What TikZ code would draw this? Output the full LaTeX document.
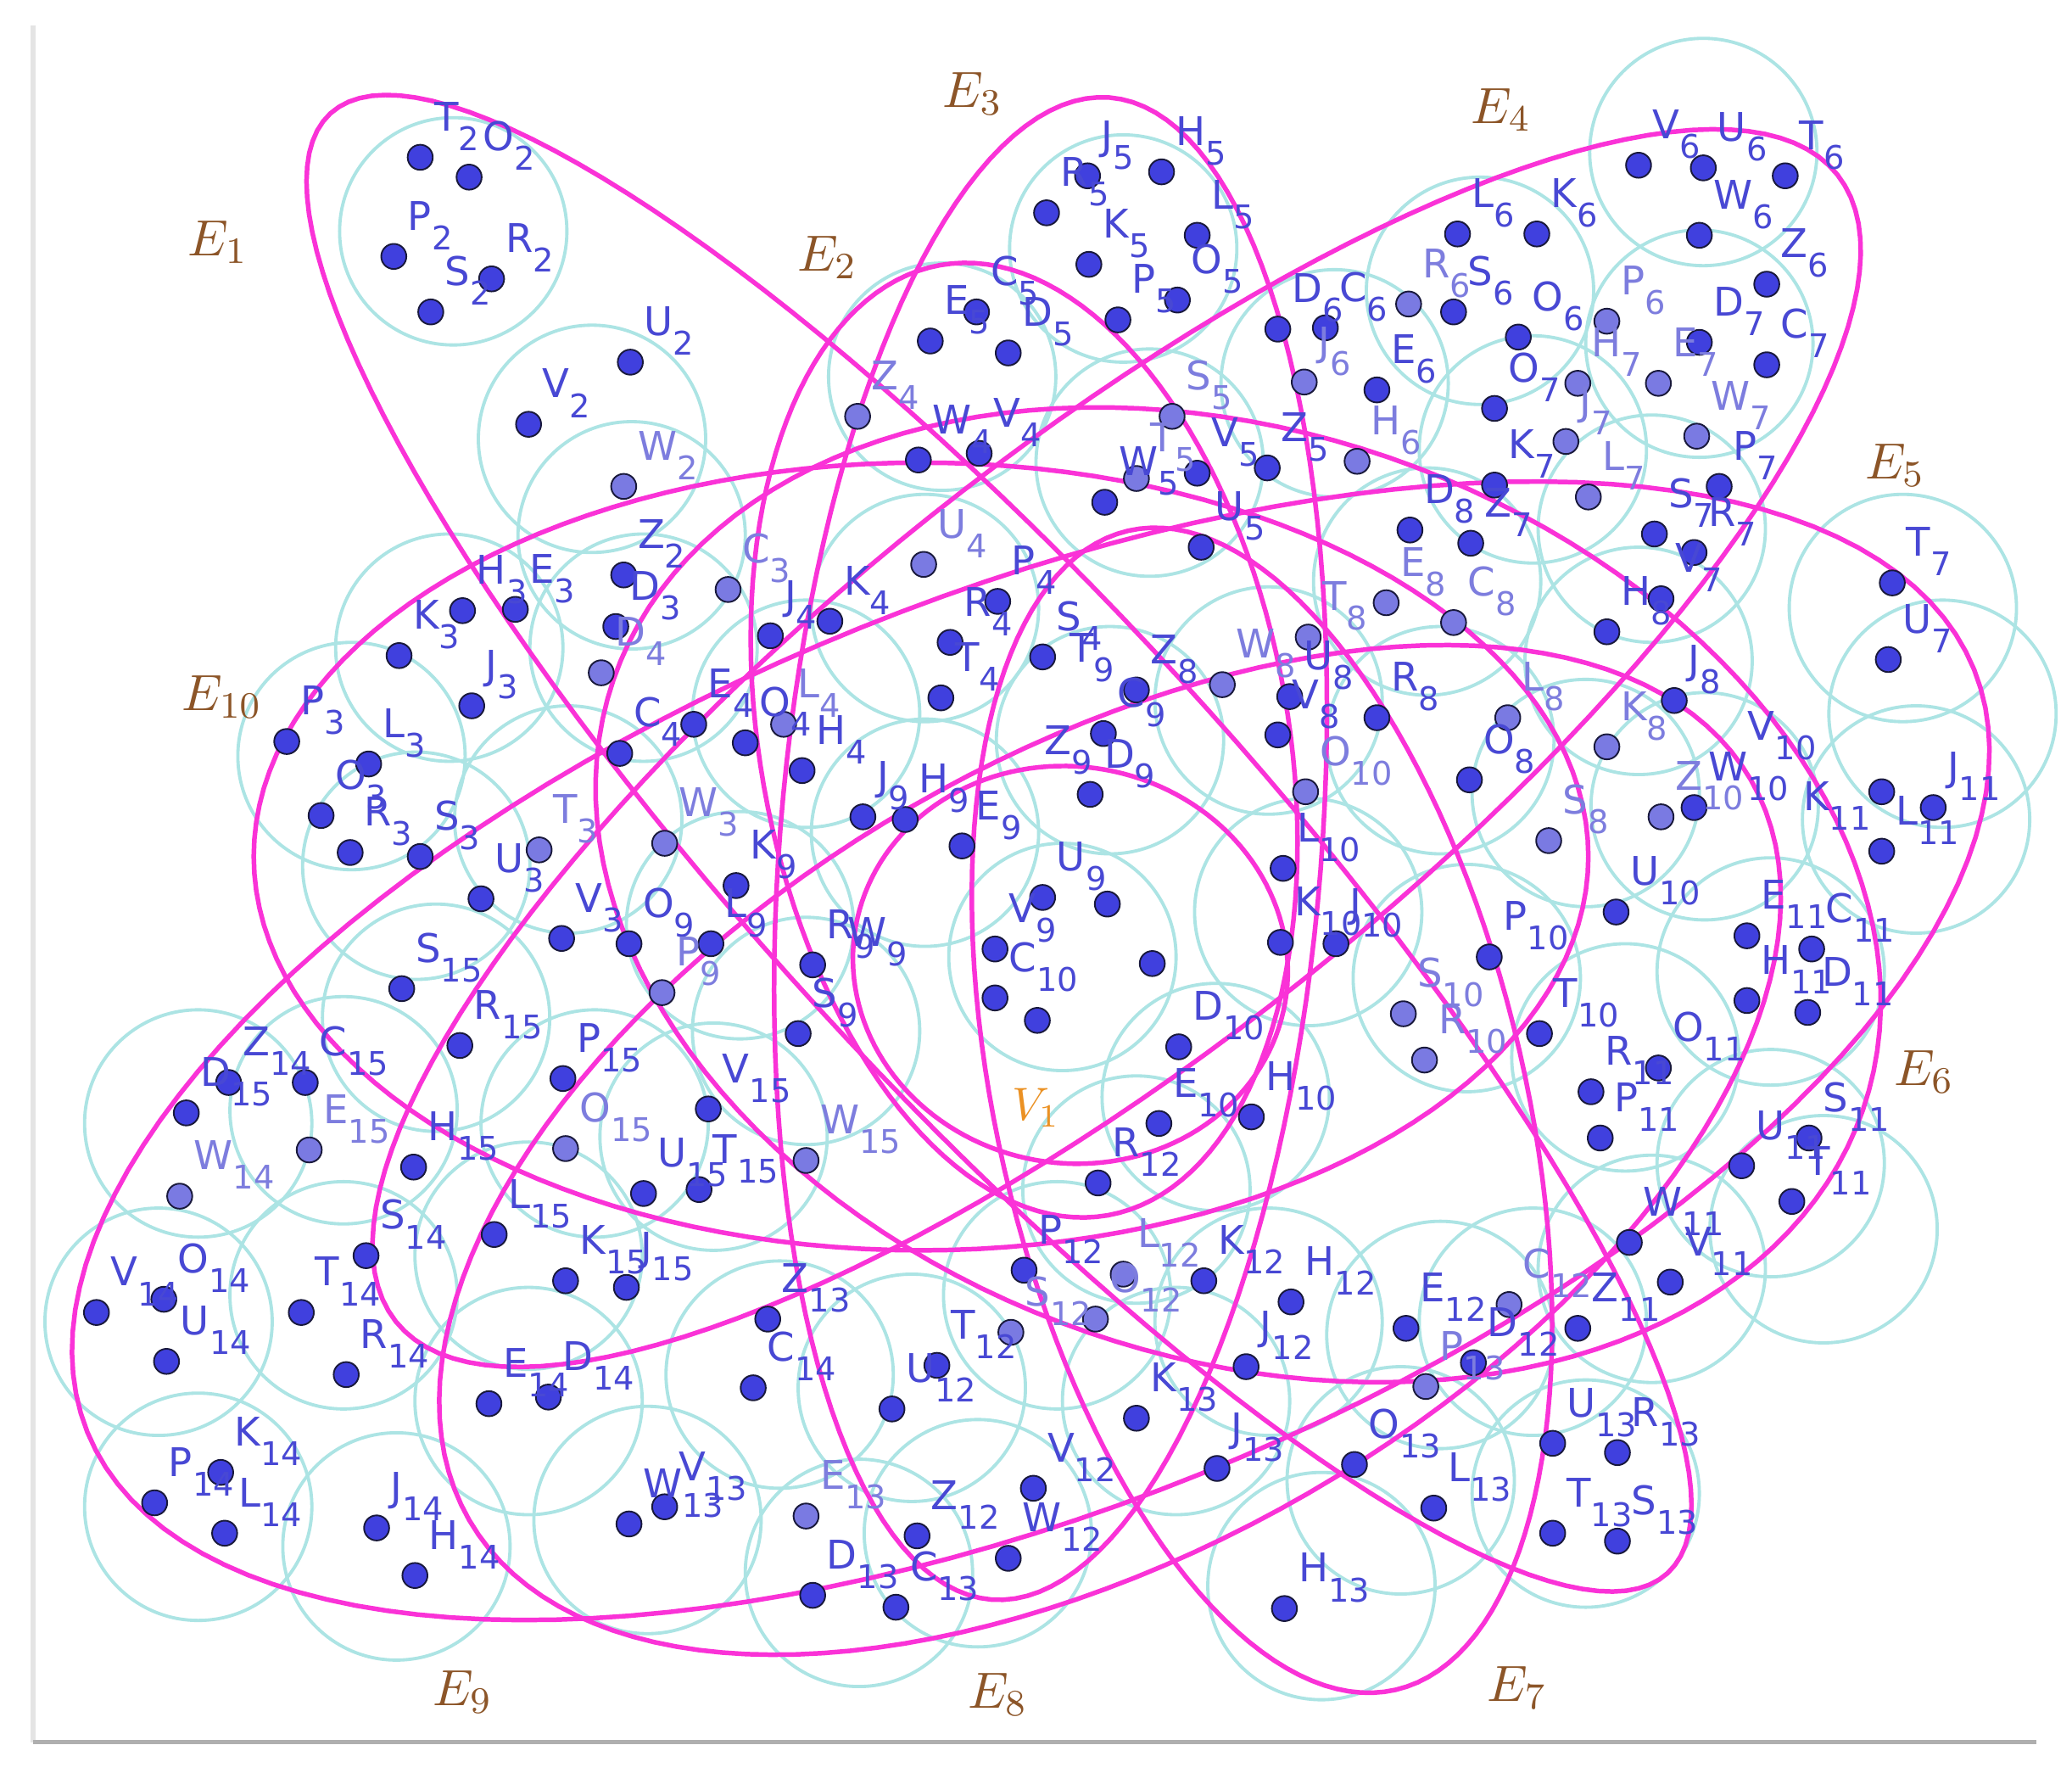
\documentclass[tikz,border=0pt]{standalone}
\usepackage{fontspec}
\newfontfamily\lblfont{DejaVu Sans}
\definecolor{magc}{RGB}{250,50,215}
\definecolor{cyc}{RGB}{172,228,228}
\definecolor{dotc}{RGB}{64,64,222}
\definecolor{dotl}{RGB}{122,122,226}
\definecolor{dotb}{RGB}{25,25,60}
\definecolor{lblc}{RGB}{72,72,212}
\definecolor{lbll}{RGB}{125,125,222}
\definecolor{ebrown}{RGB}{140,85,40}
\definecolor{vorange}{RGB}{235,145,35}
\definecolor{framec}{RGB}{175,175,175}
\definecolor{framel}{RGB}{228,228,228}
\newcommand\vsub[1]{\raisebox{-4.2pt}{\fontsize{7}{7}\selectfont #1}}
\newcommand\hell[5]{\draw[hedge] plot[variable=\t,domain=0:360,samples=145]
 ({#1+#3*cos(\t)*cos(#5)-#4*sin(\t)*sin(#5)},{#2+#3*cos(\t)*sin(#5)+#4*sin(\t)*cos(#5)}) -- cycle;}
\begin{document}
\begin{tikzpicture}[x=0.01cm,y=-0.01cm,
  cyanc/.style={draw=cyc,line width=0.7pt},
  hedge/.style={draw=magc,line width=1.0pt,line join=round},
  vdark/.style={fill=dotc,draw=dotb,line width=0.35pt},
  vlight/.style={fill=dotl,draw=dotb,line width=0.35pt},
  vlab/.style={anchor=base west,inner sep=0pt,text=lblc,font=\lblfont\fontsize{8.5}{8.5}\selectfont},
  vlabl/.style={vlab,text=lbll},
  elab/.style={text=ebrown,font=\fontsize{11}{11}\selectfont},
]
\useasboundingbox (0,0) rectangle (1568,1341);
\fill[white] (0,0) rectangle (1568,1341);
% frame
\draw[framel,line width=1pt] (25,19) -- (25,1318);
\draw[framec,line width=0.8pt] (25,1318) -- (1541,1318);

% cyan circles
\foreach \cx/\cy in {343/175,448/332,478/405,340/490,266/572,315/655,430/620,487/490,610/540,713/285,850/188,870/350,700/460,
1289/115,1286/260,1120/220,1010/290,1160/340,1250/400,1080/440,1440/460,1240/500,960/530,1090/560,1200/600,1290/610,1450/620,1340/735,1230/800,1340/880,1250/960,1110/740,990/690,920/830,1470/540,1380/930,
804/724,840/560,700/630,560/700,610/780,540/860,450/850,330/770,260/840,150/850,400/950,260/980,120/1000,400/1060,150/1140,300/1170,490/1150,590/1040,690/1050,800/980,650/1190,740/1160,890/1060,960/1000,1000/1200,1060/1120,1090/1010,1160/1000,1200/1130,860/900}
  {\draw[cyanc] (\cx,\cy) circle[radius=86];}

% hyperedges (magenta ellipses)
\hell{756}{638}{749}{185}{47.5}
\hell{795}{642}{570}{205}{94.5}
\hell{775}{560}{365}{200}{80}
\hell{697}{648}{505}{298}{0}
\hell{780}{795}{770}{345}{-22}
\hell{845}{566}{697}{225}{141.5}
\hell{937}{677}{500}{350}{19}
\hell{955}{840}{450}{200}{77}
\hell{840}{870}{560}{300}{-30}
\hell{810}{730}{165}{150}{10}

% dark vertices
\foreach \px/\py/\vl/\vs in {318/119/T/2,355/134/O/2,298/194/P/2,372/211/R/2,326/236/S/2,477/274/U/2,400/321/V/2,472/435/Z/2,
350/462/H/3,390/461/E/3,466/474/D/3,302/496/K/3,357/534/J/3,217/561/P/3,279/578/L/3,243/617/O/3,265/645/R/3,318/648/S/3,364/680/U/3,425/710/V/3,
469/570/C/4,525/548/E/4,564/562/O/4,607/583/H/4,583/481/J/4,628/470/K/4,755/455/P/4,719/486/R/4,789/497/S/4,712/528/T/4,741/343/V/4,695/348/W/4,
823/133/J/5,879/130/H/5,792/161/R/5,906/178/L/5,824/200/K/5,891/227/O/5,846/242/P/5,739/236/C/5,704/258/E/5,763/267/D/5,836/380/W/5,906/358/V/5,959/354/Z/5,909/414/U/5,
1240/125/V/6,1289/127/U/6,1351/133/T/6,1286/178/W/6,1103/177/L/6,1163/177/K/6,1337/215/Z/6,1100/236/S/6,1149/255/O/6,967/249/D/6,1003/248/C/6,1042/295/E/6,
1286/259/D/7,1337/276/C/7,1131/309/O/7,1131/367/K/7,1301/368/P/7,1113/411/Z/7,1252/404/S/7,1282/418/R/7,1257/453/V/7,1432/441/T/7,1429/499/U/7,
1067/401/D/8,1216/478/H/8,976/527/U/8,860/522/Z/8,967/556/V/8,1042/543/R/8,1267/530/J/8,1112/590/O/8,
835/555/C/9,825/601/D/9,653/618/J/9,685/620/H/9,728/640/E/9,557/670/K/9,538/714/L/9,476/714/O/9,615/730/R/9,604/782/S/9,789/679/U/9,753/718/V/9,
753/755/C/10,892/792/D/10,877/850/E/10,947/845/H/10,1011/714/J/10,969/713/K/10,971/657/L/10,1127/724/P/10,1165/782/T/10,1223/690/U/10,1282/611/W/10,
1322/708/E/11,1371/718/C/11,1322/757/H/11,1368/766/D/11,1463/611/J/11,1424/644/L/11,1255/808/O/11,1204/826/R/11,1211/861/P/11,1369/861/S/11,1318/882/U/11,1356/909/T/11,1233/940/W/11,1264/970/V/11,1194/1005/Z/11,
831/895/R/12,775/961/P/12,911/969/K/12,977/985/H/12,709/1033/T/12,675/1066/U/12,943/1034/J/12,782/1126/V/12,763/1179/W/12,694/1162/Z/12,1064/1005/E/12,1115/1031/D/12,
581/998/Z/13,860/1073/K/13,921/1111/J/13,615/1207/D/13,678/1216/C/13,972/1217/H/13,476/1153/W/13,503/1140/V/13,1175/1092/U/13,1224/1099/R/13,1025/1108/O/13,1085/1141/L/13,1175/1160/T/13,1224/1166/S/13,
173/819/Z/14,277/950/S/14,228/993/T/14,73/993/V/14,124/983/O/14,126/1030/U/14,262/1040/R/14,370/1062/E/14,415/1057/D/14,167/1114/K/14,117/1137/P/14,170/1160/L/14,285/1156/J/14,314/1192/H/14,570/1050/C/14,
304/748/S/15,348/791/R/15,426/816/P/15,231/819/C/15,141/842/D/15,313/883/H/15,487/903/U/15,529/900/T/15,536/839/V/15,374/934/L/15,428/969/K/15,474/974/J/15}
  {\path[vdark] (\px,\py) circle[radius=9.5];}

% light vertices
\foreach \px/\py/\vl/\vs in {472/368/W/2,408/643/T/3,551/446/C/3,455/509/D/4,593/548/L/4,699/427/U/4,649/315/Z/4,887/315/S/5,860/362/T/5,
1066/230/R/6,1216/243/P/6,987/289/J/6,1027/349/H/6,1255/290/E/7,1194/290/H/7,1284/330/W/7,1185/334/J/7,1202/376/L/7,
1049/456/E/8,1100/471/C/8,990/482/T/8,925/518/W/8,1141/543/L/8,1216/565/K/8,1172/636/S/8,501/751/P/9,503/638/W/3,
988/599/O/10,1078/802/R/10,1062/767/S/10,1257/618/Z/10,850/964/L/12,829/998/O/12,765/1008/S/12,1142/987/C/12,
610/1147/E/13,1079/1049/P/13,136/905/W/14,234/870/E/15,428/869/O/15,610/878/W/15}
  {\path[vlight] (\px,\py) circle[radius=9.5];}

% unlabeled vertices
\foreach \px/\py in {872/729,785/772,838/684,1424/599}
  {\path[vdark] (\px,\py) circle[radius=9.5];}

% labels of dark vertices
\foreach \px/\py/\vl/\vs in {318/119/T/2,355/134/O/2,298/194/P/2,372/211/R/2,326/236/S/2,477/274/U/2,400/321/V/2,472/435/Z/2,
350/462/H/3,390/461/E/3,466/474/D/3,302/496/K/3,357/534/J/3,217/561/P/3,279/578/L/3,243/617/O/3,265/645/R/3,318/648/S/3,364/680/U/3,425/710/V/3,
469/570/C/4,525/548/E/4,564/562/O/4,607/583/H/4,583/481/J/4,628/470/K/4,755/455/P/4,719/486/R/4,789/497/S/4,712/528/T/4,741/343/V/4,695/348/W/4,
823/133/J/5,879/130/H/5,792/161/R/5,906/178/L/5,824/200/K/5,891/227/O/5,846/242/P/5,739/236/C/5,704/258/E/5,763/267/D/5,836/380/W/5,906/358/V/5,959/354/Z/5,909/414/U/5,
1240/125/V/6,1289/127/U/6,1351/133/T/6,1286/178/W/6,1103/177/L/6,1163/177/K/6,1337/215/Z/6,1100/236/S/6,1149/255/O/6,967/249/D/6,1003/248/C/6,1042/295/E/6,
1286/259/D/7,1337/276/C/7,1131/309/O/7,1131/367/K/7,1301/368/P/7,1113/411/Z/7,1252/404/S/7,1282/418/R/7,1257/453/V/7,1432/441/T/7,1429/499/U/7,
1067/401/D/8,1216/478/H/8,976/527/U/8,860/522/Z/8,967/556/V/8,1042/543/R/8,1267/530/J/8,1112/590/O/8,
835/555/C/9,825/601/D/9,653/618/J/9,685/620/H/9,728/640/E/9,557/670/K/9,538/714/L/9,476/714/O/9,615/730/R/9,604/782/S/9,789/679/U/9,753/718/V/9,
753/755/C/10,892/792/D/10,877/850/E/10,947/845/H/10,1011/714/J/10,969/713/K/10,971/657/L/10,1127/724/P/10,1165/782/T/10,1223/690/U/10,1282/611/W/10,
1322/708/E/11,1371/718/C/11,1322/757/H/11,1368/766/D/11,1463/611/J/11,1424/644/L/11,1255/808/O/11,1204/826/R/11,1211/861/P/11,1369/861/S/11,1318/882/U/11,1356/909/T/11,1233/940/W/11,1264/970/V/11,1194/1005/Z/11,
831/895/R/12,775/961/P/12,911/969/K/12,977/985/H/12,709/1033/T/12,675/1066/U/12,943/1034/J/12,782/1126/V/12,763/1179/W/12,694/1162/Z/12,1064/1005/E/12,1115/1031/D/12,
581/998/Z/13,860/1073/K/13,921/1111/J/13,615/1207/D/13,678/1216/C/13,972/1217/H/13,476/1153/W/13,503/1140/V/13,1175/1092/U/13,1224/1099/R/13,1025/1108/O/13,1085/1141/L/13,1175/1160/T/13,1224/1166/S/13,
173/819/Z/14,277/950/S/14,228/993/T/14,73/993/V/14,124/983/O/14,126/1030/U/14,262/1040/R/14,370/1062/E/14,415/1057/D/14,167/1114/K/14,117/1137/P/14,170/1160/L/14,285/1156/J/14,314/1192/H/14,570/1050/C/14,
304/748/S/15,348/791/R/15,426/816/P/15,231/819/C/15,141/842/D/15,313/883/H/15,487/903/U/15,529/900/T/15,536/839/V/15,374/934/L/15,428/969/K/15,474/974/J/15}
  {\node[vlab] (n\vl\vs) at ({\px+10},{\py-20}) {\vl\vsub{\vs}};}

% labels of light vertices
\foreach \px/\py/\vl/\vs in {472/368/W/2,408/643/T/3,551/446/C/3,455/509/D/4,593/548/L/4,699/427/U/4,649/315/Z/4,887/315/S/5,860/362/T/5,
1066/230/R/6,1216/243/P/6,987/289/J/6,1027/349/H/6,1255/290/E/7,1194/290/H/7,1284/330/W/7,1185/334/J/7,1202/376/L/7,
1049/456/E/8,1100/471/C/8,990/482/T/8,925/518/W/8,1141/543/L/8,1216/565/K/8,1172/636/S/8,501/751/P/9,503/638/W/3,
988/599/O/10,1078/802/R/10,1062/767/S/10,1257/618/Z/10,850/964/L/12,829/998/O/12,765/1008/S/12,1142/987/C/12,
610/1147/E/13,1079/1049/P/13,136/905/W/14,234/870/E/15,428/869/O/15,610/878/W/15}
  {\node[vlabl] (n\vl\vs) at ({\px+10},{\py-20}) {\vl\vsub{\vs}};}

% labels without their own dot
\foreach \px/\py/\vl/\vs in {809/501/T/9,790/571/Z/9,641/716/W/9,1322/560/V/10,1364/613/K/11}
  {\node[vlab] (n\vl\vs) at (\px,\py) {\vl\vsub{\vs}};}

% hyperedge names
\node[elab] (e1) at (165,183) {$E_{1}$};
\node[elab] (e2) at (626,195) {$E_{2}$};
\node[elab] (e3) at (736,71) {$E_{3}$};
\node[elab] (e4) at (1136,83) {$E_{4}$};
\node[elab] (e5) at (1434,352) {$E_{5}$};
\node[elab] (e6) at (1456,811) {$E_{6}$};
\node[elab] (e7) at (1148,1277) {$E_{7}$};
\node[elab] (e8) at (755,1282) {$E_{8}$};
\node[elab] (e9) at (350,1280) {$E_{9}$};
\node[elab] (e10) at (168,527) {$E_{10}$};
\node[text=vorange,font=\fontsize{10}{10}\selectfont] (vone) at (784,838) {$V_{1}$};
\end{tikzpicture}
\end{document}
